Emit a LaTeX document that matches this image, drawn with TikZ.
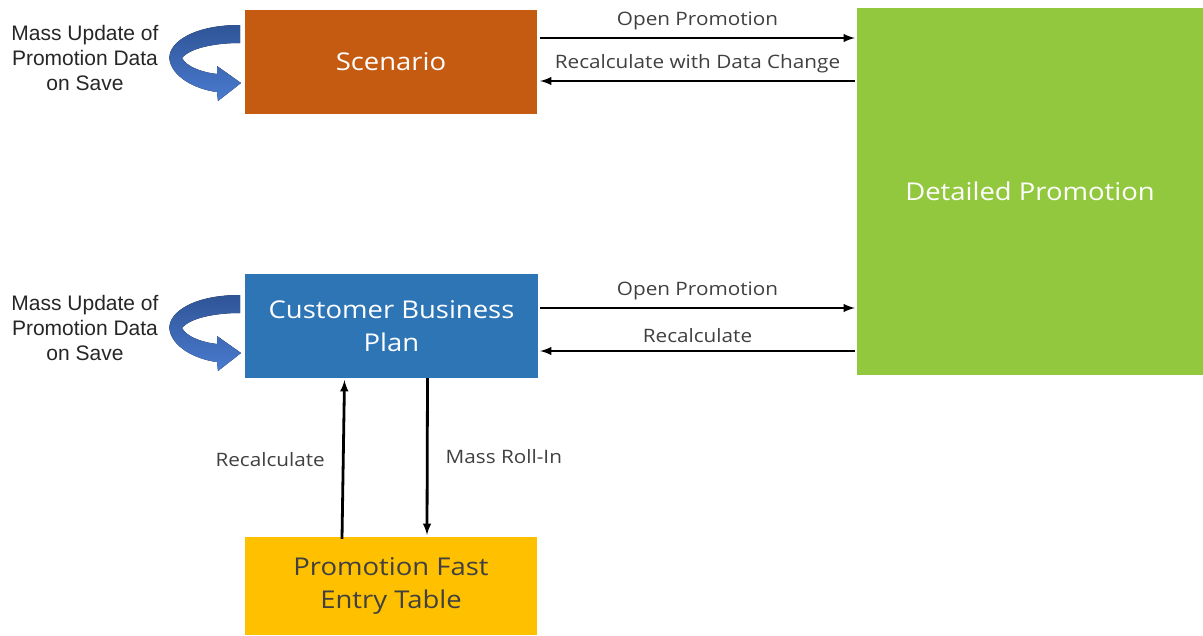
\documentclass[tikz,border=0pt]{standalone}
\usepackage{fontspec}
\setmainfont{Open Sans}[FakeStretch=1.12]
\newfontfamily\notefont{Liberation Sans}
\usepackage{tikz}
\usetikzlibrary{arrows,positioning}
\tikzset{>=latex}

\definecolor{scenarioorange}{HTML}{C55A11}
\definecolor{planblue}{HTML}{2E75B6}
\definecolor{promogreen}{HTML}{92C83E}
\definecolor{fastyellow}{HTML}{FFC000}
\definecolor{labelgray}{HTML}{404040}
\definecolor{ribbondark}{HTML}{2F5597}
\definecolor{ribbonlight}{HTML}{4A7BD0}

\begin{document}
\begin{tikzpicture}[x=1pt, y=-1pt]
        % styles for the boxes, the links and their labels
        \tikzstyle{box}=[inner sep=0pt, align=center, minimum width=292pt, minimum height=104pt,
                         font=\fontsize{24.5}{33}\selectfont, text=white]
        \tikzstyle{link}=[->, line width=2.8pt, black]
        \tikzstyle{linklabel}=[font=\fontsize{18.5}{22}\selectfont, text=labelgray, inner sep=0pt]
        \tikzstyle{note}=[font=\notefont\fontsize{21}{25}\selectfont, text=black!85, align=center, inner sep=0pt]
        \useasboundingbox (0,0) rectangle (1203,635);

        \node[box, fill=scenarioorange] (scenario) at (391,62) {Scenario};
        \node[box, fill=planblue, minimum width=293pt] (plan) at (391.5,326) {Customer Business\\Plan};
        \node[box, fill=fastyellow, minimum height=98pt, text=labelgray] (fastentry) at (391,586)
                {Promotion Fast\\Entry Table};
        \node[box, fill=promogreen, minimum width=346pt, minimum height=367pt] (detailed) at (1030,191.5)
                {Detailed Promotion};

        % scenario <-> detailed promotion
        \draw[link] ([xshift=3pt]scenario.east |- 0,38) -- ([xshift=-2pt]detailed.west |- 0,38)
                node[linklabel, midway, above=7pt] {Open Promotion};
        \draw[link] ([xshift=-2pt]detailed.west |- 0,81) -- ([xshift=3pt]scenario.east |- 0,81)
                node[linklabel, midway, above=7pt] {Recalculate with Data Change};

        % customer business plan <-> detailed promotion
        \draw[link] ([xshift=2pt]plan.east |- 0,308) -- ([xshift=-2pt]detailed.west |- 0,308)
                node[linklabel, midway, above=7pt] {Open Promotion};
        \draw[link] ([xshift=-2pt]detailed.west |- 0,351) -- ([xshift=2pt]plan.east |- 0,351)
                node[linklabel, midway, above=7pt] {Recalculate};

        % customer business plan <-> fast entry table
        \draw[link] ([xshift=-49pt,yshift=-2pt]fastentry.north) -- ([xshift=-47pt,yshift=-2pt]plan.south)
                node[linklabel, midway, left=17pt] {Recalculate};
        \draw[link] ([xshift=36pt]plan.south) -- ([xshift=36pt,yshift=2pt]fastentry.north)
                node[linklabel, midway, right=17pt] {Mass Roll-In};

        % save loops on the left
        \foreach \dy/\name in {0/scenario, 270/plan} {
                \begin{scope}[yshift=-\dy pt]
                        \fill[top color=ribbondark, bottom color=ribbonlight]
                                (240,25) .. controls (190,25) and (165,45) .. (170,62)
                                .. controls (175,80) and (200,90) .. (217,92)
                                -- (218,101) -- (241,83) -- (217,66) -- (217,74)
                                .. controls (200,72) and (186,66) .. (182,58)
                                .. controls (190,48) and (215,43) .. (240,43) -- cycle;
                        \node[note] (note\name) at (85,58) {Mass Update of\\Promotion Data\\on Save};
                \end{scope}
        }
\end{tikzpicture}
\end{document}
